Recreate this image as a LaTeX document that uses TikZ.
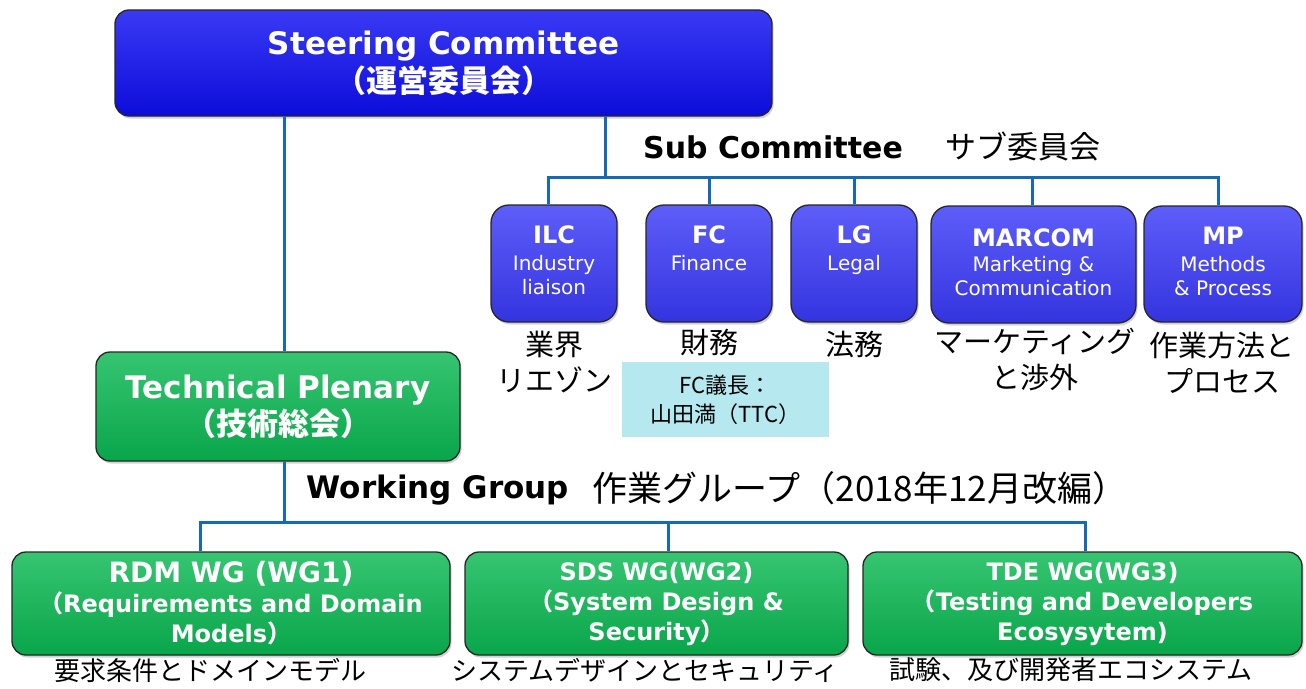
\documentclass[tikz,border=0pt]{standalone}
\usepackage{fontspec}
\setmainfont{DejaVu Sans}
\newfontfamily\jp{Noto Sans CJK JP}
\usetikzlibrary{shadows}
\newcommand\J[1]{{\jp #1}}
\definecolor{scblue}{RGB}{14,14,242}
\definecolor{subblue}{RGB}{58,58,248}
\definecolor{tpgreen}{RGB}{10,184,82}
\definecolor{connc}{RGB}{22,104,184}
\definecolor{cyanbox}{RGB}{182,232,240}
\tikzset{
  conn/.style={draw=connc, line width=3pt},
  box/.style={draw=black!85, line width=1.3pt, rounded corners=14pt, inner sep=0pt,
    drop shadow={shadow xshift=1.5pt, shadow yshift=-2.5pt, opacity=0.35}},
  bluebox/.style={box, top color=scblue!82!white, middle color=scblue, bottom color=scblue!90!black},
  subbox/.style={box, rounded corners=18pt, top color=subblue!82!white, middle color=subblue, bottom color=subblue!90!black},
  greenbox/.style={box, top color=tpgreen!82!white, middle color=tpgreen, bottom color=tpgreen!90!black},
  wtext/.style={text=white, align=center, inner sep=0pt},
  subtext/.style={wtext, anchor=north, font=\fontsize{20}{24}\selectfont},
  jlabel/.style={align=center, inner sep=0pt, font=\jp\fontsize{29}{36}\selectfont},
  blabel/.style={align=center, inner sep=0pt, font=\jp\fontsize{26}{30}\selectfont},
}
\begin{document}
\begin{tikzpicture}[x=1pt, y=-1pt]
\useasboundingbox (0,0) rectangle (1306,688);
\fill[white] (0,0) rectangle (1306,688);

% main boxes
\node[bluebox, minimum width=657pt, minimum height=106pt] (sc) at (443.5,63) {};
\node[wtext, font=\bfseries\fontsize{31}{38}\selectfont] (sct) at (sc.center) {Steering Committee\\\J{（運営委員会）}};

\node[greenbox, minimum width=364pt, minimum height=109pt] (tp) at (278,406.5) {};
\node[wtext, font=\bfseries\fontsize{31}{37}\selectfont] (tpt) at (tp.center) {Technical Plenary\\\J{（技術総会）}};

% sub committee boxes
\node[subbox, minimum width=126pt, minimum height=117pt] (ilc) at (554,263.5) {};
\node[subbox, minimum width=126pt, minimum height=117pt] (fc) at (709,263.5) {};
\node[subbox, minimum width=126pt, minimum height=117pt] (lg) at (854,263.5) {};
\node[subbox, minimum width=205pt, minimum height=117pt] (mc) at (1033.5,264.5) {};
\node[subbox, minimum width=158pt, minimum height=116pt] (mp) at (1223,264) {};

\node[subtext] (ilct) at ([yshift=-21pt]ilc.north) {{\bfseries\fontsize{24}{24}\selectfont ILC}\\[3pt]Industry\\liaison};
\node[subtext] (fct) at ([yshift=-21pt]fc.north) {{\bfseries\fontsize{24}{24}\selectfont FC}\\[3pt]Finance};
\node[subtext] (lgt) at ([yshift=-21pt]lg.north) {{\bfseries\fontsize{24}{24}\selectfont LG}\\[3pt]Legal};
\node[subtext] (mct) at ([yshift=-23pt]mc.north) {{\bfseries\fontsize{24}{24}\selectfont MARCOM}\\[1pt]Marketing \&\\Communication};
\node[subtext] (mpt) at ([yshift=-21pt]mp.north) {{\bfseries\fontsize{24}{24}\selectfont MP}\\[3pt]Methods\\\& Process};

% japanese labels under sub committees
\node[jlabel] (ilcj) at (554,362) {業界\\リエゾン};
\node[jlabel] (fcj) at (709,342) {財務};
\node[jlabel] (lgj) at (854,344) {法務};
\node[jlabel] (mcj) at (1035,360) {マーケティング\\と渉外};
\node[jlabel] (mpj) at (1222,363) {作業方法と\\プロセス};

\node[fill=cyanbox, minimum width=207pt, minimum height=75pt, inner sep=0pt] (chair) at (725.5,399.5) {};
\node[align=center, inner sep=0pt, font=\jp\fontsize{22}{29}\selectfont] (chairt) at (chair.center) {FC議長：\\山田満（TTC）};

% headings
\node[inner sep=0pt, font=\bfseries\fontsize{30}{36}\selectfont] (subh) at (773,147) {Sub Committee};
\node[inner sep=0pt, font=\jp\fontsize{31}{36}\selectfont] (subhj) at (1023,147) {サブ委員会};
\node[inner sep=0pt, font=\bfseries\fontsize{31}{36}\selectfont] (wgh) at (438,490) {Working Group};
\node[inner sep=0pt, font=\jp\fontsize{35}{36}\selectfont] (wghj) at (860,488) {作業グループ（2018年12月改編）};

% working group boxes
\node[greenbox, minimum width=438pt, minimum height=103pt] (rdm) at (231,603.5) {};
\node[greenbox, minimum width=383pt, minimum height=103pt] (sds) at (656.5,603.5) {};
\node[greenbox, minimum width=439pt, minimum height=103pt] (tde) at (1082.5,603.5) {};
\node[wtext, font=\bfseries\fontsize{24}{30}\selectfont] (rdmt) at (rdm.center) {{\fontsize{28}{30}\selectfont RDM WG (WG1)}\\\J{（}Requirements and Domain\\Models\J{）}};
\node[wtext, font=\bfseries\fontsize{24}{30}\selectfont] (sdst) at (sds.center) {SDS WG(WG2)\\\J{（}System Design \&\\Security\J{）}};
\node[wtext, font=\bfseries\fontsize{24}{30}\selectfont] (tdet) at (tde.center) {TDE WG(WG3)\\\J{（}Testing and Developers\\Ecosysytem)};

\node[blabel] (rdmj) at (210,670) {要求条件とドメインモデル};
\node[blabel] (sdsj) at (645,670) {システムデザインとセキュリティ};
\node[blabel] (tdej) at (1071,670) {試験、及び開発者エコシステム};

% connectors
\coordinate (tpin) at ([xshift=6pt]tp.north);
\coordinate (subbus) at (605,177);
\coordinate (wgbus) at (283,522);
\draw[conn] (tpin |- sc.south) -- (tpin);
\draw[conn] (subbus |- sc.south) -- (subbus);
\draw[conn] ([xshift=-6pt]ilc.north) |- ([xshift=-5pt]mp.north |- subbus) -- ([xshift=-5pt]mp.north);
\draw[conn] (fc.north) -- (fc.north |- subbus);
\draw[conn] (lg.north) -- (lg.north |- subbus);
\draw[conn] ([xshift=-1.5pt]mc.north) -- ([xshift=-1.5pt]mc.north |- subbus);
\draw[conn] (tpin |- tp.south) -- (tpin |- wgbus);
\draw[conn] ([xshift=-31pt]rdm.north) |- ([xshift=2.5pt]tde.north |- wgbus) -- ([xshift=2.5pt]tde.north);
\draw[conn] ([xshift=11.5pt]sds.north) -- ([xshift=11.5pt]sds.north |- wgbus);
\end{tikzpicture}
\end{document}
